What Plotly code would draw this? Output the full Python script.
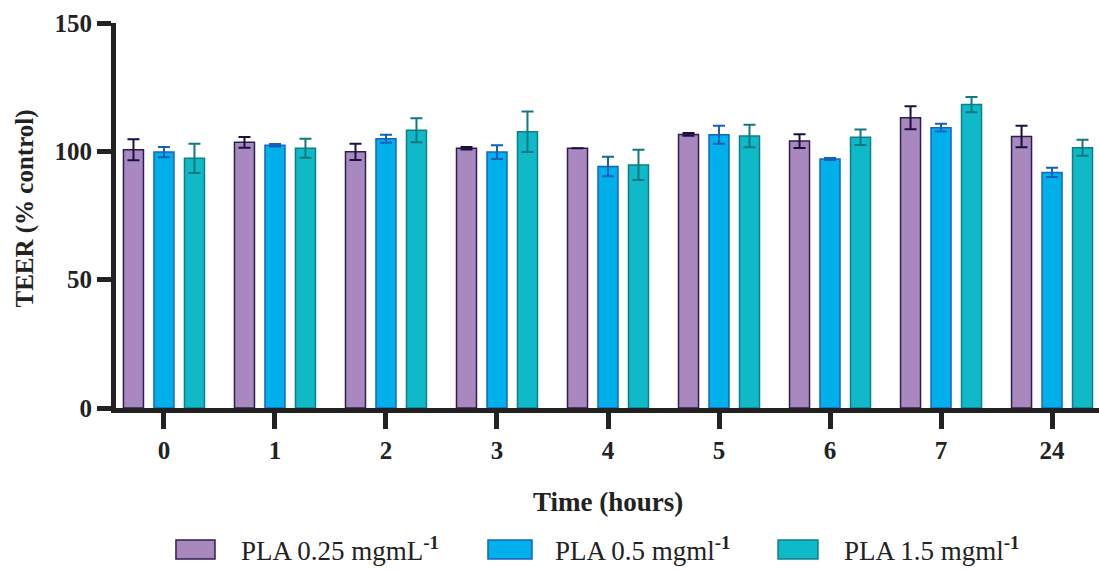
import plotly.graph_objects as go

times = ["0", "1", "2", "3", "4", "5", "6", "7", "24"]
series_names = ["PLA 0.25 mgmL<sup><b>-1</b></sup>", "PLA 0.5 mgml<sup><b>-1</b></sup>", "PLA 1.5 mgml<sup><b>-1</b></sup>"]
pla_025 = [100.6, 103.5, 99.8, 101.2, 101.2, 106.6, 104.0, 113.1, 105.8]
pla_025_err = [4.1, 2.1, 3.2, 0.5, 0.0, 0.5, 2.7, 4.5, 4.2]
pla_05 = [99.7, 102.4, 104.9, 99.7, 94.1, 106.5, 97.0, 109.2, 91.8]
pla_05_err = [2.0, 0.5, 1.6, 2.7, 3.8, 3.5, 0.4, 1.5, 1.8]
pla_15 = [97.3, 101.2, 108.2, 107.6, 94.7, 106.0, 105.5, 118.2, 101.4]
pla_15_err = [5.7, 3.7, 4.7, 7.9, 5.9, 4.4, 3.0, 3.0, 3.1]

fills = ["#A988C0", "#00B0EA", "#10B9C8"]
outlines = ["#2B1F4E", "#1565C0", "#0E7E87"]
errcols = ["#1A1040", "#1560B8", "#0E7A80"]

serif = "Liberation Serif"
ink = "#222222"

fig = go.Figure()
for name, vals, errs, fc, oc, ec in zip(series_names, [pla_025, pla_05, pla_15],
                                         [pla_025_err, pla_05_err, pla_15_err],
                                         fills, outlines, errcols):
    fig.add_trace(go.Bar(
        x=times, y=vals, name=name, showlegend=False,
        marker=dict(color=fc, line=dict(color=oc, width=1.5)),
        error_y=dict(type="data", array=errs, visible=True, color=ec, thickness=2, width=6),
    ))

# custom legend (large swatches like the reference)
sw_x = [(0.0610, 0.1007), (0.3784, 0.4232), (0.6735, 0.7141)]
txt_x = [0.1251, 0.4446, 0.7386]
shapes = []
annotations = []
for (x0, x1), tx, fc, oc, name in zip(sw_x, txt_x, fills, outlines, series_names):
    shapes.append(dict(type="rect", xref="paper", yref="paper", x0=x0, x1=x1,
                       y0=-0.392, y1=-0.343, fillcolor=fc, line=dict(color=oc, width=1.5)))
    annotations.append(dict(text=name, xref="paper", yref="paper", x=tx, y=-0.3675,
                            xanchor="left", yanchor="middle", showarrow=False,
                            font=dict(family=serif, size=27, color=ink)))

annotations.append(dict(text="<b>Time (hours)</b>", xref="paper", yref="paper", x=0.5005, y=-0.244,
                        xanchor="center", yanchor="middle", showarrow=False,
                        font=dict(family=serif, size=27, color=ink)))
annotations.append(dict(text="<b>TEER (% control)</b>", xref="paper", yref="paper", x=-0.0926, y=0.518,
                        xanchor="center", yanchor="middle", showarrow=False, textangle=-90,
                        font=dict(family=serif, size=25, color=ink)))

fig.update_layout(
    width=1099, height=570,
    margin=dict(l=116, r=0, t=23, b=162, autoexpand=False),
    plot_bgcolor="white", paper_bgcolor="white",
    barmode="group", bargap=0.176, bargroupgap=0.344,
    font=dict(family=serif, color=ink),
    showlegend=False,
    shapes=shapes, annotations=annotations,
)
fig.update_xaxes(
    type="category", range=[-0.432, 8.423], automargin=False,
    showline=True, linecolor=ink, linewidth=5,
    ticks="outside", ticklen=16, tickwidth=5, tickcolor=ink,
    tickfont=dict(family=serif, size=25, color=ink, weight="bold"),
    showgrid=False, zeroline=False,
)
fig.update_yaxes(
    range=[0, 150], tickvals=[0, 50, 100, 150], automargin=False,
    showline=True, linecolor=ink, linewidth=5,
    ticks="outside", ticklen=14, tickwidth=5, tickcolor=ink,
    tickfont=dict(family=serif, size=25, color=ink, weight="bold"),
    showgrid=False, zeroline=False,
)

fig.write_html("out.html")
